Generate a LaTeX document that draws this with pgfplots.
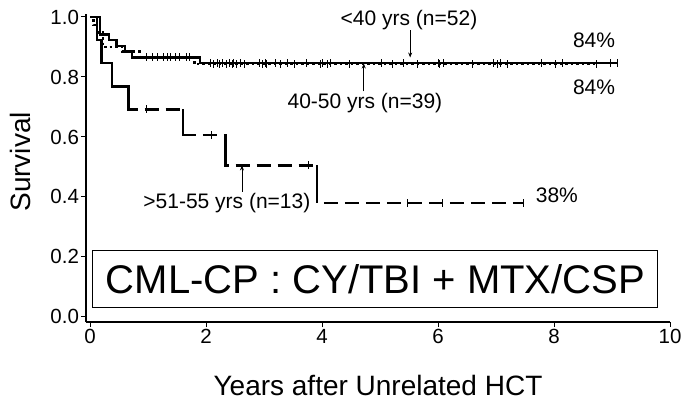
\documentclass[border=0pt]{standalone}
\usepackage{pgfplots}
\pgfplotsset{compat=1.18}
\usepackage{fontspec}
\setmainfont{Liberation Sans}
\usetikzlibrary{arrows.meta}
\newcommand{\fs}[1]{\fontsize{#1}{1.2\dimexpr#1\relax}\selectfont}
\begin{document}
\begin{tikzpicture}
\begin{axis}[
  name=ax,
  scale only axis,
  width=584bp, height=308bp,
  xmin=-0.069, xmax=10, ymin=-0.017, ymax=1.01,
  axis x line=bottom, axis y line=left,
  axis line style={line width=1.5bp, -},
  xtick={0,2,4,6,8,10},
  ytick={0,0.2,0.4,0.6,0.8,1.0},
  tick align=outside,
  major tick length=5bp,
  tick style={line width=1bp, black},
  /pgf/number format/assume math mode=true,
  tick label style={font=\fs{20.5bp}},
  yticklabel style={xshift=1.5bp, /pgf/number format/fixed, /pgf/number format/fixed zerofill, /pgf/number format/precision=1},
  xticklabel style={yshift=1bp},
  xlabel={Years after Unrelated HCT},
  ylabel={Survival},
  xlabel style={font=\fs{28bp}, at={([yshift=-63bp]axis description cs:0.5,0)}, anchor=center},
  ylabel style={font=\fs{28bp}, at={([xshift=-66bp]axis description cs:0,0.52)}, anchor=center},
  clip=false,
]
% <40 yrs (n=52), solid
\addplot[const plot, black, line width=2.5bp] coordinates {
 (0,1) (0.17,0.942) (0.33,0.923) (0.46,0.904) (0.6,0.885) (0.72,0.865) (1.9,0.846) (9.09,0.846)};
% 40-50 yrs (n=39), dotted
\addplot[const plot, black, line width=2.5bp, dash pattern=on 2.5bp off 3bp] coordinates {
 (0,1) (0.06,0.974) (0.12,0.949) (0.22,0.9) (0.55,0.885) (0.85,0.865) (1.8,0.843) (8.74,0.843)};
% >51-55 yrs (n=13), dashed
\addplot[const plot, black, line width=2.5bp, dash pattern=on 14bp off 7bp] coordinates {
 (0,1) (0.12,0.923) (0.2,0.846) (0.38,0.769) (0.66,0.692) (1.6,0.606) (2.34,0.505) (3.91,0.379) (7.48,0.379)};
\addplot[black, line width=2.5bp, unbounded coords=jump] coordinates {
 (0,1) (0.12,1) (0.12,0.923) (0.2,0.923) (0.2,0.846) (0.38,0.846) (0.38,0.769) (0.66,0.769) (0.66,0.692) (0.8,0.692)
 (nan,nan) (1.6,0.692) (1.6,0.606)
 (nan,nan) (2.34,0.606) (2.34,0.505)
 (nan,nan) (3.91,0.505) (3.91,0.379)};
% censor marks
\addplot[only marks, mark=|, mark size=4bp, mark options={line width=0.9bp, black}] coordinates {
 (0.98,0.865) (1.07,0.865) (1.17,0.865) (1.26,0.865) (1.33,0.865) (1.38,0.865) (1.48,0.865) (1.55,0.865) (1.66,0.865) (1.72,0.865)
 (2.07,0.846) (2.19,0.846) (2.29,0.846) (2.41,0.846) (2.48,0.846) (2.59,0.846) (2.93,0.846) (3.02,0.846) (3.19,0.846) (3.40,0.846)
 (3.74,0.846) (4.0,0.846) (4.14,0.846) (5.03,0.846) (5.40,0.846) (6.0,0.846) (6.09,0.846) (6.95,0.846) (7.07,0.846) (7.79,0.846)
 (8.14,0.846) (8.97,0.846) (9.09,0.846)};
\addplot[only marks, mark=|, mark size=4bp, mark options={line width=0.9bp, black}] coordinates {
 (2.12,0.843) (2.24,0.843) (2.36,0.843) (2.45,0.843) (2.53,0.843) (2.67,0.843) (2.98,0.843) (3.05,0.843) (3.28,0.843) (3.53,0.843)
 (3.97,0.843) (4.09,0.843) (4.48,0.843) (5.22,0.843) (5.64,0.843) (6.03,0.843) (6.59,0.843) (7.02,0.843) (7.19,0.843) (8.02,0.843) (8.74,0.843)};
\addplot[only marks, mark=|, mark size=4bp, mark options={line width=0.9bp, black}] coordinates {
 (0.98,0.692) (2.1,0.606) (3.76,0.505) (5.48,0.379) (6.07,0.379) (7.48,0.379)};
% annotations
\node[font=\fs{21bp}] at (axis cs:5.5,0.99) {<40 yrs (n=52)};
\draw[line width=0.7bp, -{Stealth[length=5bp,width=4bp]}] (axis cs:5.52,0.955) -- (axis cs:5.52,0.865);
\node[font=\fs{21bp}] at (axis cs:4.74,0.713) {40-50 yrs (n=39)};
\draw[line width=0.7bp, -{Stealth[length=5bp,width=4bp]}] (axis cs:4.72,0.752) -- (axis cs:4.72,0.845);
\node[font=\fs{21bp}] at (axis cs:2.36,0.38) {>51-55 yrs (n=13)};
\draw[line width=0.7bp, -{Stealth[length=5bp,width=4bp]}] (axis cs:2.62,0.418) -- (axis cs:2.62,0.505);
\node[font=\fs{21bp}] at (axis cs:8.69,0.923) {84\%};
\node[font=\fs{21bp}] at (axis cs:8.69,0.767) {84\%};
\node[font=\fs{21bp}] at (axis cs:8.05,0.407) {38\%};
\draw[line width=1.1bp] (axis cs:0.05,0.03) rectangle (axis cs:9.79,0.22);
\node[font=\fs{40bp}] at (axis cs:4.92,0.125) {CML-CP : CY/TBI + MTX/CSP};
\end{axis}
\pgfresetboundingbox
\path[use as bounding box] ([shift={(-86bp,-82bp)}]ax.south west) rectangle ([shift={(602bp,322bp)}]ax.south west);
\end{tikzpicture}
\end{document}
